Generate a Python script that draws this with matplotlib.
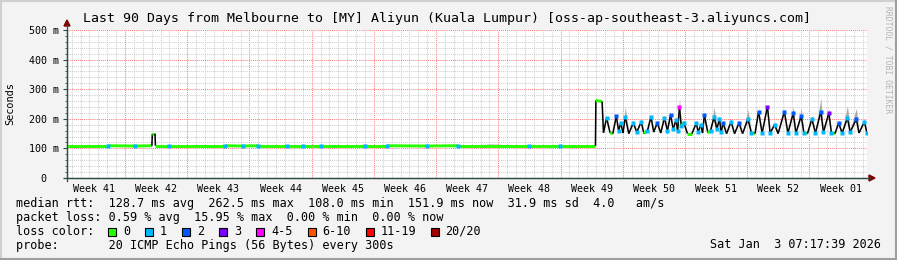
import matplotlib
matplotlib.use("Agg")
import matplotlib.pyplot as plt
from matplotlib.collections import LineCollection
from matplotlib.patches import Polygon, Rectangle

W, H = 897, 260
MONO = "DejaVu Sans Mono"

TITLE = "Last 90 Days from Melbourne to [MY] Aliyun (Kuala Lumpur) [oss-ap-southeast-3.aliyuncs.com]"
WEEKS = ["Week 41", "Week 42", "Week 43", "Week 44", "Week 45", "Week 46", "Week 47",
         "Week 48", "Week 49", "Week 50", "Week 51", "Week 52", "Week 01"]
WEEK0 = 6.52          # first week boundary, days after start of window
Y_TICKS = [0, 100, 200, 300, 400, 500]
Y_LABELS = ["0  ", "100 m", "200 m", "300 m", "400 m", "500 m"]

# median rtt samples: day in window, median (ms), lost pings (of 20), smoke top (ms)
T = [0.0, 4.6, 7.7, 9.55, 9.6, 9.9, 9.95, 11.5, 17.8, 19.8, 21.5, 24.7, 26.6, 27.6,
     28.6, 33.5, 36.0, 40.5, 44.0, 47.7, 52.0, 55.5, 59.45,
     59.5, 60.2, 60.35, 60.7, 61.1, 61.4, 61.8, 62.05, 62.3, 62.55, 62.8, 63.2, 63.7,
     64.1, 64.6, 64.9, 65.3, 65.7, 66.0, 66.4, 66.8, 67.2, 67.55, 67.9, 68.2, 68.5,
     68.7, 68.9, 69.1, 69.4, 69.8, 70.3, 70.8, 71.0, 71.3, 71.5, 71.7, 72.1, 72.4,
     72.8, 73.1, 73.4, 73.6, 73.8, 74.2, 74.7, 75.1, 75.6, 76.0, 76.6, 77.0, 77.4,
     77.8, 78.2, 78.8, 79.1, 79.6, 80.0, 80.7, 81.1, 81.7, 82.0, 82.6, 82.9, 83.3,
     83.8, 84.2, 84.8, 85.1, 85.7, 86.0, 86.4, 86.8, 87.2, 87.8, 88.1, 88.8, 89.1,
     89.7, 90.0]
MED = [109, 109, 108, 109, 149, 149, 109, 109, 109, 108, 109, 109, 109, 109,
       109, 109, 109, 108, 109, 109, 109, 109, 109,
       262.5, 258, 153, 203, 152, 150, 209, 160, 186, 152, 207, 150, 186,
       155, 190, 150, 160, 207, 155, 186, 152, 203, 160, 213, 165, 196,
       160, 241, 175, 186, 150, 150, 186, 155, 180, 152, 213, 152, 160,
       207, 165, 199, 155, 186, 150, 190, 150, 186, 150, 199, 152, 150,
       224, 152, 241, 152, 180, 150, 224, 152, 219, 152, 210, 152, 150,
       199, 152, 224, 155, 219, 152, 150, 186, 152, 203, 155, 199, 152,
       190, 151.9]
LOSS = [0, 1, 1, 0, 0, 0, 0, 1, 1, 1, 1, 1, 1, 0,
        1, 1, 1, 1, 1, 0, 1, 1, 0,
        0, 0, 0, 1, 0, 0, 2, 1, 1, 0, 1, 0, 1,
        1, 1, 0, 1, 1, 0, 2, 0, 1, 1, 2, 1, 1,
        1, 4, 1, 1, 0, 0, 1, 1, 1, 0, 2, 0, 1,
        1, 1, 1, 1, 2, 0, 1, 0, 2, 0, 1, 1, 0,
        2, 1, 3, 1, 1, 0, 2, 1, 2, 1, 2, 1, 0,
        1, 1, 2, 1, 3, 1, 0, 2, 1, 1, 1, 2, 0,
        1, 1]
TOP = [110, 110, 110, 110, 153, 153, 110, 110, 110, 110, 110, 110, 110, 114,
       110, 114, 110, 110, 110, 115, 110, 110, 110,
       265, 262, 158, 210, 156, 155, 215, 170, 195, 156, 241, 154, 195,
       160, 200, 154, 170, 215, 160, 195, 156, 212, 170, 220, 175, 205,
       165, 269, 190, 195, 154, 154, 195, 160, 190, 156, 225, 156, 165,
       240, 175, 210, 160, 195, 154, 200, 154, 195, 154, 230, 156, 154,
       235, 156, 247, 156, 190, 154, 235, 156, 240, 156, 235, 156, 154,
       210, 156, 269, 160, 235, 156, 154, 195, 156, 245, 160, 235, 156,
       200, 156]

LOSS_LABELS = ["0", "1", "2", "3", "4-5", "6-10", "11-19", "20/20"]
LOSS_COLORS = ["#26ff00", "#00b8ff", "#0059ff", "#7e00ff", "#ff00ff", "#ff5500", "#ff0000", "#a10000"]
LOSS_UPPER = [0, 1, 2, 3, 5, 10, 19, 20]

ROWS = ["median rtt:  128.7 ms avg  262.5 ms max  108.0 ms min  151.9 ms now  31.9 ms sd  4.0   am/s",
        "packet loss: 0.59 % avg  15.95 % max  0.00 % min  0.00 % now",
        "loss color:",
        "probe:       20 ICMP Echo Pings (56 Bytes) every 300s"]
STAMP = "Sat Jan  3 07:17:39 2026"


def loss_color(n):
    for up, c in zip(LOSS_UPPER, LOSS_COLORS):
        if n <= up:
            return c
    return LOSS_COLORS[-1]


def fx(x):
    return x / W


def fy(y):
    return 1 - y / H


fig = plt.figure(figsize=(W / 100, H / 100), dpi=100, facecolor="#f3f3f3")
ax = fig.add_axes([fx(67), fy(178), 800 / W, 148 / H])
ax.set_facecolor("white")
ax.set_xlim(0, 90)
ax.set_ylim(0, 500)

# grid (dotted, minor grey / major red)
dot = (0, (1, 1))
d = WEEK0 % 1
while d < 90:
    major = abs((d - WEEK0) / 7 - round((d - WEEK0) / 7)) < 1e-6
    ax.axvline(d, color="#ff8080" if major else "#cfcfcf", ls=dot, lw=0.75, zorder=0)
    d += 1
for v in range(20, 501, 20):
    ax.axhline(v, color="#ff8080" if v % 100 == 0 else "#cfcfcf", ls=dot, lw=0.75, zorder=0)

# smoke
ax.fill_between(T, MED, TOP, color="#a8a8a8", lw=0, zorder=2)

# median line: flat stretches green, steps black
segs, cols, lws = [], [], []
for i in range(len(T) - 1):
    segs.append([(T[i], MED[i]), (T[i + 1], MED[i + 1])])
    flat = abs(MED[i + 1] - MED[i]) <= 15
    cols.append(LOSS_COLORS[0] if flat else "black")
    lws.append(2.1 if flat else 1.1)
ax.add_collection(LineCollection(segs, colors=cols, linewidths=lws, zorder=3))
for t, m, n in zip(T, MED, LOSS):
    if n > 0:
        ax.plot(t, m, "s", ms=2.4, mec="none", color=loss_color(n), zorder=4)

# axes, ticks
for s in ("top", "right"):
    ax.spines[s].set_visible(False)
for s in ("left", "bottom"):
    ax.spines[s].set_color("#2c4d43")
    ax.spines[s].set_linewidth(0.9)
bounds = [WEEK0 + 7 * k for k in range(13) if WEEK0 + 7 * k < 90]
ax.set_xticks(bounds)
ax.set_xticklabels([])
ax.set_xticks([b - 3.5 for b in bounds] + [bounds[-1] + 3.5], minor=True)
ax.set_xticklabels(WEEKS, minor=True)
ax.tick_params(axis="x", which="major", length=0)
ax.tick_params(axis="x", which="minor", length=0, pad=4)
ax.set_yticks(Y_TICKS)
ax.set_yticklabels(Y_LABELS)
ax.set_yticks(range(20, 500, 20), minor=True)
ax.tick_params(axis="y", which="major", length=3, pad=3, color="#2c4d43", width=0.8)
ax.tick_params(axis="y", which="minor", length=1.5, color="#2c4d43", width=0.6)
for lab in ax.get_xticklabels(minor=True) + ax.get_yticklabels():
    lab.set_fontfamily(MONO)
    lab.set_fontsize(7.2)

# axis extensions and arrows
fig.add_artist(plt.Line2D([fx(64), fx(870)], [fy(178), fy(178)], color="#2c4d43", lw=0.9))
fig.add_artist(plt.Line2D([fx(67), fx(67)], [fy(181), fy(25)], color="#2c4d43", lw=0.9))
fig.add_artist(Polygon([(fx(869), fy(175)), (fx(875), fy(178)), (fx(869), fy(181))],
                       closed=True, color="#7f0000", transform=fig.transFigure))
fig.add_artist(Polygon([(fx(64), fy(26)), (fx(67), fy(20)), (fx(70), fy(26))],
                       closed=True, color="#7f0000", transform=fig.transFigure))

# texts
fig.text(fx(447), fy(18.5), TITLE, family=MONO, fontsize=9.5, ha="center", va="center")
fig.text(fx(10), fy(104), "Seconds", family=MONO, fontsize=7.4, rotation=90,
         ha="center", va="center")
fig.text(fx(888), fy(60), "RRDTOOL / TOBI OETIKER", family=MONO, fontsize=5.8,
         color="#b4b4b4", rotation=270, ha="center", va="center")
for txt, y in zip(ROWS, [204, 218, 231.5, 245]):
    fig.text(fx(16), fy(y), txt, family=MONO, fontsize=8.5, ha="left", va="center")
fig.text(fx(881), fy(245), STAMP, family=MONO, fontsize=8.5, ha="right", va="center")

box_x = [108, 145, 182, 219, 256, 307.5, 365.5, 430.5]
for x0, lab, c in zip(box_x, LOSS_LABELS, LOSS_COLORS):
    fig.add_artist(Rectangle((fx(x0), fy(235.5)), 8 / W, 8 / H, facecolor=c,
                             edgecolor="black", lw=0.8, transform=fig.transFigure))
    fig.text(fx(x0 + 15), fy(231.5), lab, family=MONO, fontsize=8.5, ha="left", va="center")

# 3d-ish frame
fig.add_artist(plt.Line2D([0, 1], [fy(1), fy(1)], color="#cfcfcf", lw=1.5))
fig.add_artist(plt.Line2D([fx(1), fx(1)], [0, 1], color="#cfcfcf", lw=1.5))
fig.add_artist(plt.Line2D([0, 1], [fy(259), fy(259)], color="#9e9e9e", lw=1.5))
fig.add_artist(plt.Line2D([fx(896), fx(896)], [0, 1], color="#9e9e9e", lw=1.5))

fig.savefig("out.png", dpi=100, facecolor=fig.get_facecolor())
